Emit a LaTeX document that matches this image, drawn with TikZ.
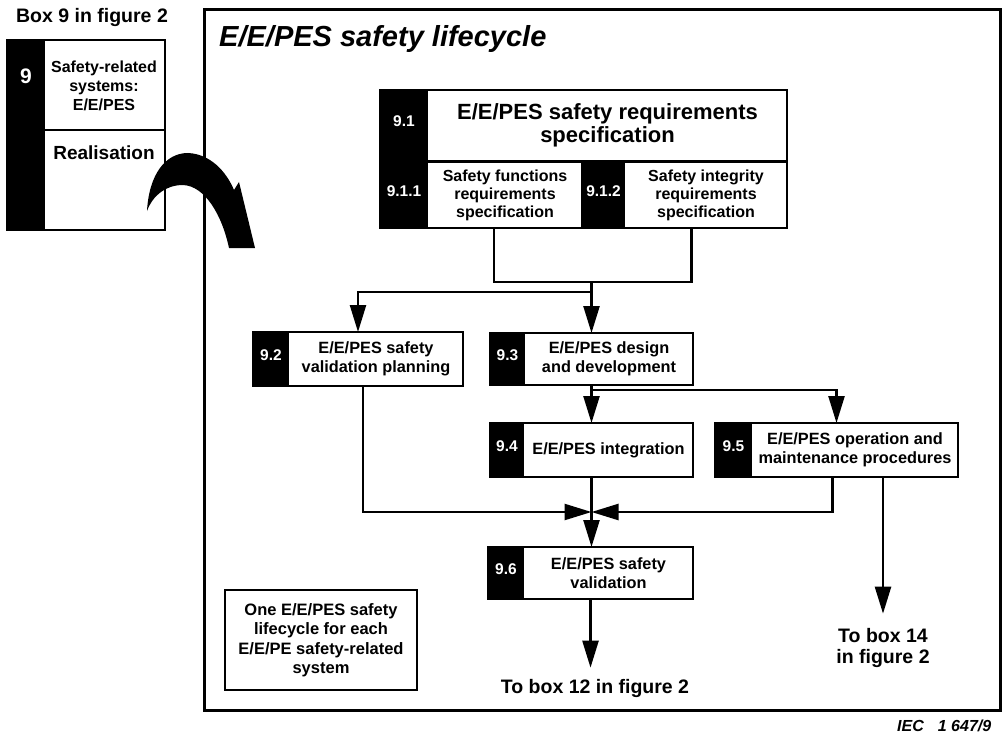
\documentclass[tikz,border=0pt]{standalone}
\usepackage{fontspec}
\setmainfont{Liberation Sans}
\usetikzlibrary{arrows.meta,calc}
\newcommand\lcbox[9]{%
  \fill (#2,#3) rectangle (#2+#6,#5);
  \node[lcb, minimum width={#4-#2}, minimum height={#5-#3}, anchor=north west] (#1) at (#2,#3) {};
  \node[numtxt] (#1n) at ({#2+#6/2},{(#3+#5)/2}) {#7};
  \node[boxtxt,#9] (#1t) at ({(#2+#6+#4)/2},{(#3+#5)/2}) {#8};
}
\begin{document}
\begin{tikzpicture}[x=1pt,y=-1pt,
  ln/.style={line width=2.4pt},
  arr/.style={ln,-{Triangle[length=27pt,width=16pt]}},
  lcb/.style={draw,line width=2.4pt,inner sep=0pt,outer sep=0pt},
  numtxt/.style={text=white,font=\fontsize{15.5}{17}\selectfont\bfseries,inner sep=0pt,yshift=4pt},
  boxtxt/.style={align=center,inner sep=0pt,font=\fontsize{16.3}{19}\selectfont\bfseries},
  plain/.style={inner sep=0pt,font=\fontsize{19.5}{21}\selectfont\bfseries}
]
\useasboundingbox (0,0) rectangle (1003,738);

% Box 9 of figure 2
\node[plain,anchor=base] (box9lbl) at (92,23) {Box 9 in figure 2};
\node[lcb,minimum width=121,minimum height=90,anchor=north west] (b9a) at (44,40) {};
\node[lcb,minimum width=121,minimum height=100,anchor=north west] (b9b) at (44,130) {};
\node[lcb,fill=black,minimum width=37,minimum height=190,anchor=north west] (b9n) at (7,40) {};
\node[text=white,inner sep=0pt,font=\fontsize{21}{24}\selectfont\bfseries] (b9num) at (26,76) {9};
\node[boxtxt,font=\fontsize{16}{19}\selectfont\bfseries] (b9t) at (104,86) {Safety-related\\systems:\\E/E/PES};
\node[plain,anchor=base,font=\fontsize{19}{21}\selectfont\bfseries] (b9r) at (104,160) {Realisation};

% frame
\draw[line width=3pt] (204,10) rectangle (1000,710);

% curved arrow
\fill (147,211) .. controls (149,175) and (165,153) .. (188,153)
  .. controls (210,154) and (226,171) .. (234,190) -- (239,182) -- (255,248) -- (229,248)
  .. controls (222,215) and (205,186) .. (183,185)
  .. controls (166,185) and (153,195) .. (147,211) -- cycle;

\node[anchor=base west,inner sep=0pt,font=\fontsize{29}{32}\selectfont\bfseries\itshape] (title) at (219,47) {E/E/PES safety lifecycle};

\lcbox{b91}{380}{90}{787}{161}{48}{9.1}{E/E/PES safety requirements\\specification}{font=\fontsize{22}{23}\selectfont\bfseries}
\lcbox{b911}{380}{162}{582}{228}{48}{9.1.1}{Safety functions\\requirements\\specification}{font=\fontsize{16}{18}\selectfont\bfseries}
\lcbox{b912}{582}{162}{787}{228}{43}{9.1.2}{Safety integrity\\requirements\\specification}{font=\fontsize{16}{18}\selectfont\bfseries}
\lcbox{b92}{253}{332}{463}{386}{36}{9.2}{E/E/PES safety\\validation planning}{}
\lcbox{b93}{490}{333}{693}{385}{35}{9.3}{E/E/PES design\\and development}{}
\lcbox{b94}{490}{423}{693}{477}{34}{9.4}{E/E/PES integration}{}
\lcbox{b95}{715}{423}{958}{477}{37}{9.5}{E/E/PES operation and\\maintenance procedures}{}
\lcbox{b96}{488}{547}{693}{599}{36}{9.6}{E/E/PES safety\\validation}{}

\node[lcb,boxtxt,font=\fontsize{16.5}{19.5}\selectfont\bfseries,minimum width=192,minimum height=100] (note) at (321,640) {One E/E/PES safety\\lifecycle for each\\E/E/PE safety-related\\system};

% connectors
\draw[ln] ([xshift=13pt]b911.south) -- ++(0,54) -| ([xshift=7pt]b912.south);
\coordinate (j1) at (b93.north |- 0,282);
\draw[arr] (j1) -- (b93.north);
\draw[arr] (b93.north |- 0,292) -| (b92.north);
\draw[arr] (b93.south) -- (b94.north);
\draw[arr] (b93.south |- 0,390) -| (b95.north);
\coordinate (cross) at (b94.south |- 0,512);
\draw[arr] ([xshift=5pt]b92.south) |- (cross);
\draw[arr] ([xshift=-4pt]b95.south) |- (cross);
\draw[arr] (b94.south) -- (b94.south |- b96.north);

\node[plain,anchor=base] (to12) at (595,693) {To box 12 in figure 2};
\coordinate (e12) at ([yshift=11pt]to12.north);
\draw[arr] (b96.south) -- (b96.south |- e12);

\node[plain,anchor=base] (to14) at (883,642) {To box 14};
\node[plain,anchor=base] (to14b) at (883,663) {in figure 2};
\coordinate (e14) at ([yshift=14pt]to14.north);
\draw[arr] (b95.south -| e14) -- (e14);

\node[anchor=base west,inner sep=0pt,font=\fontsize{16}{18}\selectfont\bfseries\itshape] (iec) at (897,731) {IEC\hspace{14pt}1 647/9};
\end{tikzpicture}
\end{document}
